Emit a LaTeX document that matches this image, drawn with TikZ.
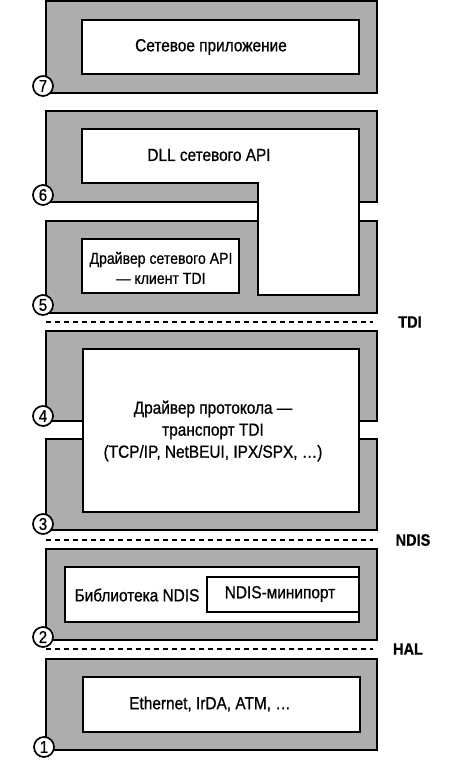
\documentclass[tikz,border=0pt]{standalone}
\usepackage{fontspec}
\setmainfont{Liberation Sans}[FakeStretch=0.88,FakeBold=0.8]
\usepackage{tikz}

\definecolor{layergray}{gray}{0.68}

\begin{document}
\begin{tikzpicture}[x=1pt,y=-1pt,
  layer/.style={draw=black,line width=1.8pt,fill=layergray},
  inbox/.style={draw=black,line width=1.8pt,fill=white},
  lbl/.style={font=\fontsize{17.5}{21}\selectfont,align=center},
  iface/.style={font=\fontsize{16.5}{20}\selectfont\bfseries},
  sep/.style={line width=1.8pt,dash pattern=on 5pt off 4pt},
  num/.style={circle,draw=black,line width=1.7pt,fill=white,inner sep=0pt,
    minimum size=20pt,font=\fontsize{17}{17}\selectfont}]
\useasboundingbox (0,0) rectangle (464,760);

% Layer 7: application
\draw[layer] (46,1) rectangle (377,93);
\draw[inbox] (82,20) rectangle (359,74);
\node[lbl] (app) at (211,47) {Сетевое приложение};
\node[num] (n7) at (43,86) {7};

% Layers 6 and 5: API DLL and API driver
\draw[layer] (46,111) rectangle (377,202);
\draw[layer] (46,221) rectangle (377,313);
\draw[inbox] (82,129) -- (359,129) -- (359,295) -- (258,295)
  -- (258,183) -- (82,183) -- cycle;
\node[lbl] (dll) at (209,155) {DLL сетевого API};
\draw[inbox] (82,239) rectangle (239,293);
\node[lbl,font=\fontsize{16}{20}\selectfont] (client) at (161,268)
  {Драйвер сетевого API\\— клиент TDI};
\node[num] (n6) at (43,195) {6};
\node[num] (n5) at (43,305) {5};

% TDI boundary
\coordinate (tdiL) at (46,322);
\coordinate (tdiR) at (373,322);
\draw[sep] (tdiL) -- (tdiR);
\node[iface] (tdi) at (410,322) {TDI};

% Layers 4 and 3: protocol driver
\draw[layer] (46,331) rectangle (377,421);
\draw[layer] (46,439) rectangle (377,530);
\draw[inbox] (83,349) rectangle (359,512);
\node[lbl,font=\fontsize{17.5}{22}\selectfont] (proto) at (213,431)
  {Драйвер протокола —\\транспорт TDI\\(TCP/IP, NetBEUI, IPX/SPX, \dots)};
\node[num] (n4) at (43,416) {4};
\node[num] (n3) at (43,524) {3};

% NDIS boundary
\coordinate (ndisL) at (46,540);
\coordinate (ndisR) at (373,540);
\draw[sep] (ndisL) -- (ndisR);
\node[iface] (ndis) at (413,540) {NDIS};

% Layer 2: NDIS library and miniport
\draw[layer] (46,549) rectangle (377,640);
\draw[inbox] (65,567) rectangle (359,622);
\draw[inbox] (207,577) rectangle (359,612);
\node[lbl] (lib) at (137,595) {Библиотека NDIS};
\node[lbl] (mini) at (280,594) {NDIS-минипорт};
\node[num] (n2) at (43,637) {2};

% HAL boundary
\coordinate (halL) at (46,649);
\coordinate (halR) at (373,649);
\draw[sep] (halL) -- (halR);
\node[iface] (hal) at (408,649) {HAL};

% Layer 1: hardware
\draw[layer] (46,659) rectangle (377,750);
\draw[inbox] (83,677) rectangle (360,732);
\node[lbl] (hw) at (210,704) {Ethernet, IrDA, ATM, \dots};
\node[num] (n1) at (44,747) {1};
\end{tikzpicture}
\end{document}
